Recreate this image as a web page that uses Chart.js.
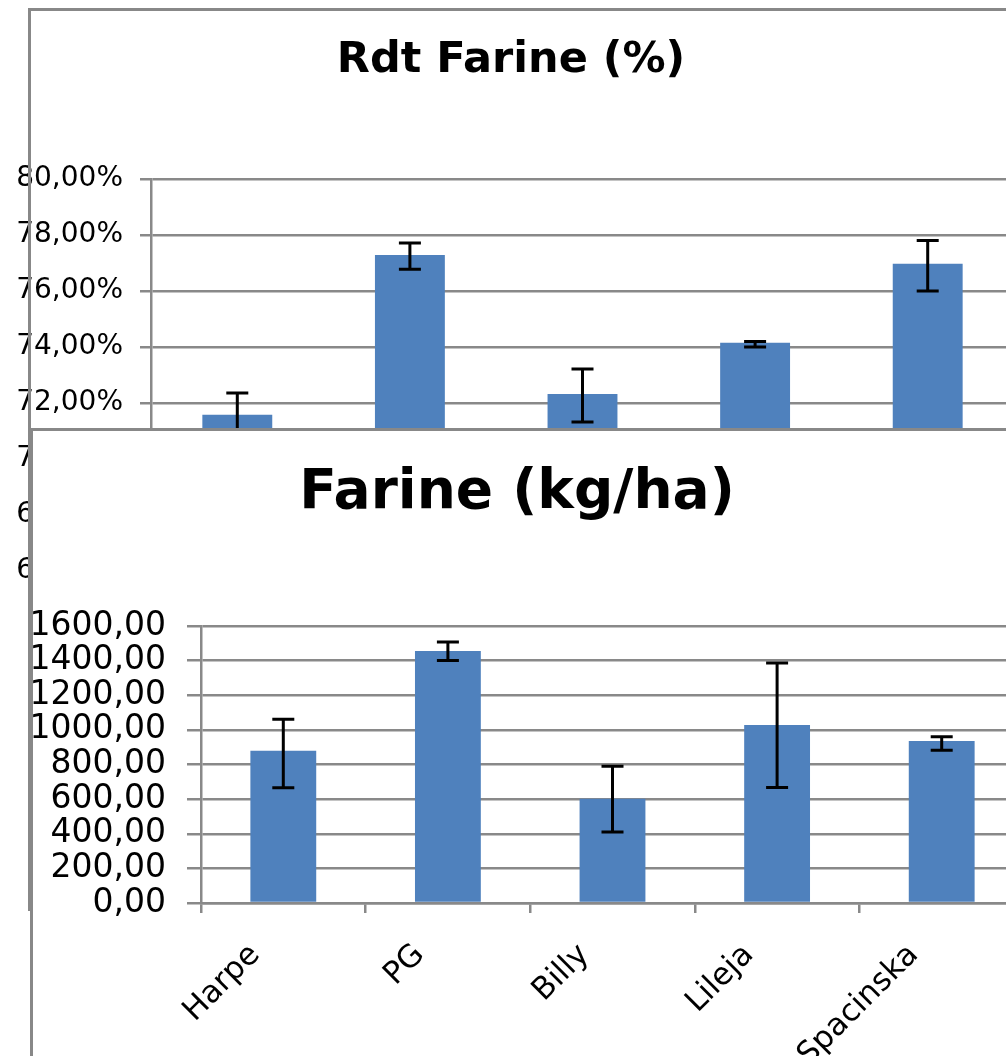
<!DOCTYPE html>
<html>
<head>
<meta charset="utf-8">
<script src="https://cdn.jsdelivr.net/npm/chart.js@4.4.0/dist/chart.umd.min.js"></script>
<style>
  html, body { margin: 0; padding: 0; background: #fff; overflow: hidden; width: 1006px; height: 1056px; }
  .layer { position: absolute; }
  #rdtChart { left: 0; top: 0; z-index: 1; }
  #topBorder { left: 28px; top: 8px; width: 1100px; height: 900px; border-left: 3px solid #888; border-top: 3px solid #888; z-index: 2; }
  #bottomPanel { left: 30px; top: 428px; width: 1100px; height: 800px; background: #fff; border-left: 3px solid #888; border-top: 3px solid #888; z-index: 3; }
  #farineChart { left: 0; top: 431px; z-index: 4; }
</style>
</head>
<body>
<canvas class="layer" id="rdtChart" width="1031" height="780"></canvas>
<div class="layer" id="topBorder"></div>
<div class="layer" id="bottomPanel"></div>
<canvas class="layer" id="farineChart" width="1044" height="700"></canvas>
<script>
const varieties = ['Harpe', 'PG', 'Billy', 'Lileja', 'Spacinska'];

// Rdt Farine (%) : mean, lower and upper end of the error bar
const rdtFarine = [71.58, 77.29, 72.32, 74.15, 76.97];
const rdtLow = [70.80, 76.78, 71.32, 74.00, 76.00];
const rdtHigh = [72.36, 77.71, 73.21, 74.20, 77.80];
const rdtTicks = [66, 68, 70, 72, 74, 76, 78, 80];

// Farine (kg/ha)
const farine = [879, 1456, 602, 1028, 936];
const farineLow = [666, 1401, 410, 667, 883];
const farineHigh = [1062, 1508, 790, 1387, 960];
const farineTicks = [0, 200, 400, 600, 800, 1000, 1200, 1400, 1600];

const gridColor = '#898989';
const barColor = '#4f81bd';

const errorBars = {
  id: 'errorBars',
  afterDatasetsDraw(chart, args, opts) {
    const ctx = chart.ctx;
    const yScale = chart.scales.y;
    const meta = chart.getDatasetMeta(0);
    ctx.save();
    ctx.strokeStyle = '#000';
    ctx.lineWidth = 3;
    meta.data.forEach((bar, i) => {
      const yLow = yScale.getPixelForValue(opts.low[i]);
      const yHigh = yScale.getPixelForValue(opts.high[i]);
      ctx.beginPath();
      ctx.moveTo(bar.x, yLow);
      ctx.lineTo(bar.x, yHigh);
      ctx.moveTo(bar.x - 11, yLow);
      ctx.lineTo(bar.x + 11, yLow);
      ctx.moveTo(bar.x - 11, yHigh);
      ctx.lineTo(bar.x + 11, yHigh);
      ctx.stroke();
    });
    ctx.restore();
  }
};

// title placed where the original sits (not centred on the canvas)
const placedTitle = {
  id: 'placedTitle',
  afterDraw(chart, args, opts) {
    const ctx = chart.ctx;
    ctx.save();
    ctx.font = opts.font;
    ctx.fillStyle = '#000';
    ctx.textAlign = 'center';
    ctx.textBaseline = 'alphabetic';
    ctx.fillText(opts.text, opts.x, opts.y);
    ctx.restore();
  }
};

const makeChart = (canvasId, cfg) => {
  const ctx = document.getElementById(canvasId).getContext('2d');
  return new Chart(ctx, {
    type: 'bar',
    data: {
      labels: varieties,
      datasets: [{
        data: cfg.values,
        backgroundColor: barColor,
        borderWidth: 0,
        categoryPercentage: 1,
        barPercentage: cfg.barPct
      }]
    },
    options: {
      responsive: false,
      animation: false,
      layout: { padding: { top: cfg.plotTop, right: cfg.padRight, left: 0, bottom: 0 } },
      plugins: {
        legend: { display: false },
        tooltip: { enabled: false },
        title: { display: false },
        errorBars: { low: cfg.low, high: cfg.high },
        placedTitle: cfg.title
      },
      scales: {
        x: {
          afterFit: (s) => { s.height = cfg.xHeight; },
          grid: { drawOnChartArea: false, drawTicks: true, tickLength: 10, color: gridColor, lineWidth: 2.5, offset: true },
          border: { display: true, color: gridColor, width: 2.5 },
          ticks: {
            color: '#000',
            font: { family: 'DejaVu Sans', size: 31 },
            minRotation: 45,
            maxRotation: 45,
            autoSkip: false,
            padding: cfg.xPad,
            labelOffset: cfg.xLabelOffset
          }
        },
        y: {
          min: cfg.ticks[0],
          max: cfg.ticks[cfg.ticks.length - 1],
          afterFit: (s) => { s.width = cfg.yWidth; },
          grid: { color: gridColor, lineWidth: 2.5, tickLength: cfg.yTick },
          border: { display: true, color: gridColor, width: 2.5 },
          ticks: {
            stepSize: cfg.ticks[1] - cfg.ticks[0],
            autoSkip: false,
            color: '#000',
            padding: cfg.yPad,
            font: { family: 'DejaVu Sans', size: cfg.yFont },
            callback: cfg.format
          }
        }
      }
    },
    plugins: [errorBars, placedTitle]
  });
};

const rdtChart = makeChart('rdtChart', {
  values: rdtFarine, low: rdtLow, high: rdtHigh, ticks: rdtTicks,
  barPct: 0.405, plotTop: 179, padRight: 17, xHeight: 209,
  yWidth: 151, yTick: 11, yPad: 17, yFont: 28, xPad: 24, xLabelOffset: -28,
  format: (v) => v.toFixed(2).replace('.', ',') + '%',
  title: { text: 'Rdt Farine (%)', x: 511, y: 72, font: 'bold 43px "DejaVu Sans"' }
});

const farineChart = makeChart('farineChart', {
  values: farine, low: farineLow, high: farineHigh, ticks: farineTicks,
  barPct: 0.4, plotTop: 195, padRight: 20, xHeight: 228,
  yWidth: 201, yTick: 14, yPad: 21, yFont: 33, xPad: 24, xLabelOffset: -28,
  format: (v) => v.toFixed(2).replace('.', ','),
  title: { text: 'Farine (kg/ha)', x: 517, y: 77, font: 'bold 55px "DejaVu Sans"' }
});
</script>
</body>
</html>
